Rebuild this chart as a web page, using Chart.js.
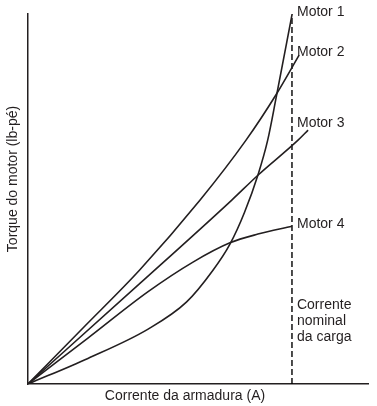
<!DOCTYPE html>
<html>
<head>
<meta charset="utf-8">
<script src="https://cdn.jsdelivr.net/npm/chart.js@4.4.1/dist/chart.umd.min.js"></script>
<style>
  html, body { margin: 0; padding: 0; background: #fff; }
  #wrap { width: 377px; height: 406px; }
</style>
</head>
<body>
<div id="wrap"><canvas id="chart"></canvas></div>
<script>
// corrente em % da nominal, torque em unidades relativas
const motor1X = [0, 22.7, 45.5, 60, 70, 76.5, 82, 87.2, 90.8, 94, 100.1]
const motor1Y = [0, 9.7, 20.8, 31, 43, 53, 65, 79.5, 92.4, 108.5, 140.4]

const motor2X = [0, 21.2, 42.3, 65.2, 82.6, 93.9, 102.7]
const motor2Y = [0, 21.6, 43.2, 69.7, 92.4, 109.5, 124.6]

const motor3X = [0, 42.4, 77.2, 87.2, 102.3, 106.1]
const motor3Y = [0, 38.1, 69.7, 79.2, 92.4, 96.2]

const motor4X = [0, 22.7, 45.5, 62.5, 76.5, 87.1, 100]
const motor4Y = [0, 17.4, 35.0, 46.2, 53.5, 56.8, 59.8]

const ratedCurrent = 100
const motorNames = ['Motor 1', 'Motor 2', 'Motor 3', 'Motor 4']
const ratedLabel = ['Corrente', 'nominal', 'da carga']
const xTitle = 'Corrente da armadura (A)'
const yTitle = 'Torque do motor (lb-pé)'

const xMax = 128.8
const yMax = 140.2

const FONT = 'Arial, "Liberation Sans", sans-serif'
const INK = '#231f20'

function toPoints(xs, ys) {
  return xs.map((x, i) => ({ x: x, y: ys[i] }))
}

function curve(xs, ys) {
  return {
    data: toPoints(xs, ys),
    borderColor: INK,
    borderWidth: 1.6,
    pointRadius: 0,
    showLine: true,
    cubicInterpolationMode: 'monotone',
  }
}

// rotulos das curvas, da linha tracejada e dos eixos
const labelsPlugin = {
  id: 'labels',
  afterDatasetsDraw(chart) {
    const ctx = chart.ctx
    const xs = chart.scales.x
    const ys = chart.scales.y
    const area = chart.chartArea
    const left = xs.getPixelForValue(ratedCurrent) + 5
    const ends = [motor1Y, motor2Y, motor3Y, motor4Y]
    const offs = [-1, -3, -7, -2]
    ctx.save()
    ctx.fillStyle = INK
    ctx.font = '14px ' + FONT
    ctx.textBaseline = 'middle'
    ends.forEach((arr, i) => {
      const y = ys.getPixelForValue(arr[arr.length - 1]) + offs[i]
      ctx.fillText(motorNames[i], left, y)
    })
    ratedLabel.forEach((line, i) => {
      ctx.fillText(line, left, ys.getPixelForValue(30) + i * 16)
    })

    ctx.textAlign = 'center'
    ctx.fillText(xTitle, area.left + 157, area.bottom + 12)

    ctx.translate(area.left - 15, area.top + 165)
    ctx.rotate(-Math.PI / 2)
    ctx.fillText(yTitle, 0, 0)
    ctx.restore()
  }
}

new Chart(document.getElementById('chart'), {
  type: 'scatter',
  data: {
    datasets: [
      curve(motor1X, motor1Y),
      curve(motor2X, motor2Y),
      curve(motor3X, motor3Y),
      curve(motor4X, motor4Y),
      {
        data: [{ x: ratedCurrent, y: 0 }, { x: ratedCurrent, y: 139 }],
        borderColor: '#000',
        borderWidth: 1.4,
        borderDash: [6, 3],
        pointRadius: 0,
        showLine: true,
      },
    ]
  },
  options: {
    responsive: true,
    maintainAspectRatio: false,
    animation: false,
    layout: { padding: { top: 14, right: 9, left: 28, bottom: 22 } },
    plugins: {
      legend: { display: false },
      tooltip: { enabled: false },
    },
    scales: {
      x: {
        type: 'linear',
        min: 0,
        max: xMax,
        grid: { display: false, drawTicks: false },
        border: { display: true, color: INK, width: 1.5 },
        ticks: { display: false },
      },
      y: {
        type: 'linear',
        min: 0,
        max: yMax,
        grid: { display: false, drawTicks: false },
        border: { display: true, color: INK, width: 1.5 },
        ticks: { display: false },
      },
    },
  },
  plugins: [labelsPlugin],
})
</script>
</body>
</html>
